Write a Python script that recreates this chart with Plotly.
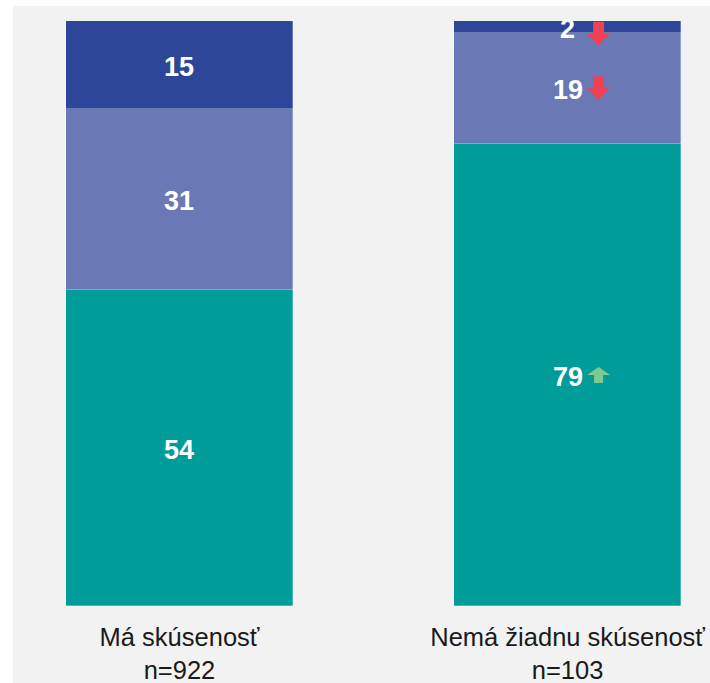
import plotly.graph_objects as go

# ---- data ----
categories = ["Má skúsenosť", "Nemá žiadnu skúsenosť"]
sample_sizes = [922, 103]
series_names = ["Segment 1", "Segment 2", "Segment 3"]  # bottom -> top
seg_bottom = [54, 79]
seg_middle = [31, 19]
seg_top = [15, 2]
sig_bottom = [None, "up"]
sig_middle = [None, "down"]
sig_top = [None, "down"]

# ---- styles ----
colors = ["#009C9A", "#6A79B5", "#2E4699"]
arrow_colors = {"up": "#80C88E", "down": "#EE4254"}
FONT = "Liberation Sans, Arial, sans-serif"

series = [seg_bottom, seg_middle, seg_top]
sigs = [sig_bottom, sig_middle, sig_top]
xs = list(range(len(categories)))
ticktext = [f"{c}<br>n={n}" for c, n in zip(categories, sample_sizes)]

fig = go.Figure()
for name, vals, col in zip(series_names, series, colors):
    fig.add_trace(go.Bar(
        x=xs, y=vals, name=name, width=0.585,
        marker=dict(color=col, line=dict(color="rgba(255,255,255,0.35)", width=0.8)),
        hoverinfo="skip",
    ))

# labels at segment centres + significance arrows
annotations = []
shapes = []
# background panel
shapes.append(dict(type="rect", xref="paper", yref="paper", x0=0, x1=1.05,
                   y0=-0.2, y1=1.0256, fillcolor="#F2F2F2",
                   line=dict(width=0), layer="below"))
for i in xs:
    base = 0
    for vals, sg in zip(series, sigs):
        v = vals[i]
        mid = base + v / 2
        annotations.append(dict(x=i, y=mid, text=str(v), showarrow=False,
                                xanchor="center", yanchor="middle", yshift=-2,
                                font=dict(family=FONT, size=27, color="white",
                                          weight="bold")))
        s = sg[i]
        if s:
            dy = -7 if v < 5 else 0
            if s == "down":
                path = (f"M25.5,{12+dy} L36.5,{12+dy} L36.5,{dy} L42.5,{dy} "
                        f"L31,{-12+dy} L19.5,{dy} L25.5,{dy} Z")
            else:
                path = (f"M26.5,-8 L35.5,-8 L35.5,0 L42.5,0 L31,8 "
                        f"L19.5,0 L26.5,0 Z")
            shapes.append(dict(type="path", xref="x", yref="y",
                               xsizemode="pixel", ysizemode="pixel",
                               xanchor=i, yanchor=mid, path=path,
                               fillcolor=arrow_colors[s], line=dict(width=0)))
        base += v

fig.update_layout(
    width=710, height=683,
    margin=dict(l=13, r=0, t=21, b=76.5, pad=0),
    barmode="stack", bargap=0,
    showlegend=False,
    paper_bgcolor="white", plot_bgcolor="rgba(0,0,0,0)",
    font=dict(family=FONT, color="#1A1A1A"),
    shapes=shapes,
    annotations=annotations,
    xaxis=dict(range=[-0.429, 1.367], tickvals=xs, ticktext=ticktext,
               tickfont=dict(size=25.5, color="#1A1A1A", family=FONT),
               showgrid=False, zeroline=False, showline=False,
               ticks="outside", ticklen=8, tickcolor="rgba(0,0,0,0)",
               automargin=False, fixedrange=True, tickangle=0),
    yaxis=dict(range=[0, 100], visible=False, fixedrange=True, automargin=False),
)

fig.write_html("out.html", config={"displayModeBar": False},
               post_script="document.body.style.margin='0';document.body.style.overflow='hidden';")
